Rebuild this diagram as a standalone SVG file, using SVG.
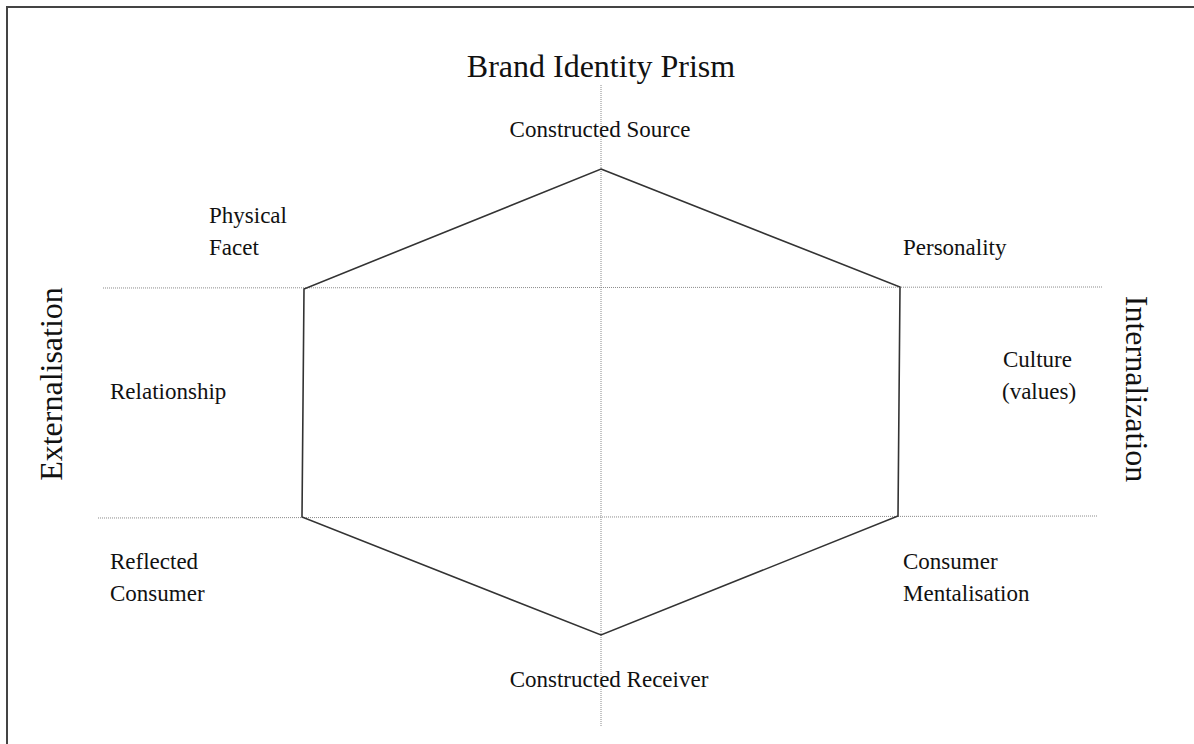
<svg xmlns="http://www.w3.org/2000/svg" width="1194" height="744" viewBox="0 0 1194 744">
<style>
.t{font-family:"Liberation Serif","Times New Roman",serif;fill:#111}
.lbl{font-size:23px}
.big{font-size:32px}
.dot{stroke:#8a8a8a;stroke-width:1;stroke-dasharray:1,1;fill:none}
.hex{stroke:#333;stroke-width:1.6;fill:none;stroke-linejoin:miter}
.frame{stroke:#444;stroke-width:2;fill:none}
</style>
<rect width="1194" height="744" fill="#fff"/>
<g id="frame"><path class="frame" d="M7,744 V7 H1194"/></g>
<g id="connectors">
<line class="dot" x1="601" y1="85" x2="601" y2="726"/>
<line class="dot" x1="103" y1="288" x2="1103" y2="287"/>
<line class="dot" x1="98" y1="518" x2="1098" y2="516"/>
<polygon class="hex" points="601,169 900,287 898,516 601,635 302,517 304,289"/>
</g>
<g id="title"><text class="t big" x="601" y="77" text-anchor="middle">Brand Identity Prism</text></g>
<g id="constructed-source"><text class="t lbl" x="600" y="137" text-anchor="middle">Constructed Source</text></g>
<g id="physical-facet"><text class="t lbl" x="209" y="223">Physical</text><text class="t lbl" x="209" y="255">Facet</text></g>
<g id="personality"><text class="t lbl" x="903" y="255">Personality</text></g>
<g id="relationship"><text class="t lbl" x="110" y="399">Relationship</text></g>
<g id="culture"><text class="t lbl" x="1003" y="367">Culture</text><text class="t lbl" x="1002" y="399">(values)</text></g>
<g id="reflected-consumer"><text class="t lbl" x="110" y="569">Reflected</text><text class="t lbl" x="110" y="601">Consumer</text></g>
<g id="consumer-mentalisation"><text class="t lbl" x="903" y="569">Consumer</text><text class="t lbl" x="903" y="601">Mentalisation</text></g>
<g id="constructed-receiver"><text class="t lbl" x="609" y="687" text-anchor="middle">Constructed Receiver</text></g>
<g id="externalisation"><text class="t big" transform="translate(62,384) rotate(-90)" text-anchor="middle">Externalisation</text></g>
<g id="internalization"><text class="t big" transform="translate(1126,389) rotate(90)" text-anchor="middle">Internalization</text></g>
</svg>
